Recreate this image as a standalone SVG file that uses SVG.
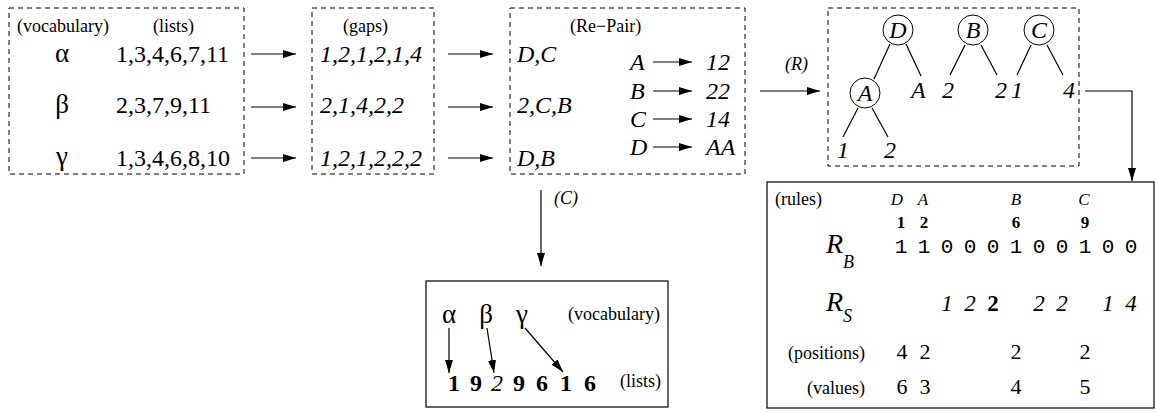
<svg xmlns="http://www.w3.org/2000/svg" width="1156" height="413" viewBox="0 0 1156 413" font-family="'Liberation Serif', 'Times New Roman', serif">
<style>
text{font-family:"Liberation Serif","Times New Roman",serif;fill:#000}
.lbl{font-size:18px}
.n{font-size:24px}
.it{font-style:italic}
.g{font-size:27px}
.dash{fill:none;stroke:#000;stroke-width:1;stroke-dasharray:5,4}
.box{fill:none;stroke:#000;stroke-width:1.2}
.ln{fill:none;stroke:#000;stroke-width:1.2}
.arr{fill:none;stroke:#000;stroke-width:1.2;marker-end:url(#ah)}
.circ{fill:#fff;stroke:#000;stroke-width:1}
.bits{font-family:"Liberation Mono","DejaVu Sans Mono",monospace;font-size:21px;text-anchor:middle}
.sm{font-size:17px;font-style:italic;text-anchor:middle}
.bn{font-size:17px;font-weight:bold;text-anchor:middle}
.rs{font-size:23px;font-style:italic;text-anchor:middle}
.pv{font-size:22px;text-anchor:middle}
.bl{font-size:24px;font-weight:bold;text-anchor:middle}
.big{font-size:28px;font-style:italic}
</style>
<defs>
<marker id="ah" markerUnits="userSpaceOnUse" markerWidth="13" markerHeight="8" refX="13" refY="4" orient="auto">
<path d="M0,0 L13,4 L0,8 z" fill="#000"/>
</marker>
</defs>

<g id="lists">
<rect class="dash" x="9" y="8" width="235" height="166"/>
<text class="lbl" x="17" y="32">(vocabulary)</text>
<text class="lbl" x="153" y="32">(lists)</text>
<text class="g" x="62" y="62" text-anchor="middle">α</text>
<text class="g" x="62" y="113" text-anchor="middle">β</text>
<text class="g" x="62" y="165" text-anchor="middle">γ</text>
<text class="n" x="116" y="62">1,3,4,6,7,11</text>
<text class="n" x="116" y="113">2,3,7,9,11</text>
<text class="n" x="116" y="166">1,3,4,6,8,10</text>
</g>

<g id="gaps">
<rect class="dash" x="312" y="8" width="122" height="166"/>
<text class="lbl" x="343" y="32">(gaps)</text>
<text class="n it" x="320" y="62">1,2,1,2,1,4</text>
<text class="n it" x="320" y="113">2,1,4,2,2</text>
<text class="n it" x="320" y="166">1,2,1,2,2,2</text>
</g>

<g id="repair">
<rect class="dash" x="510" y="8" width="235" height="166"/>
<text class="lbl" x="570" y="32">(Re−Pair)</text>
<text class="n it" x="517" y="62">D,C</text>
<text class="n it" x="517" y="113">2,C,B</text>
<text class="n it" x="517" y="166">D,B</text>
<text class="n it" x="630" y="70">A</text>
<text class="n it" x="630" y="99">B</text>
<text class="n it" x="630" y="127">C</text>
<text class="n it" x="630" y="155">D</text>
<line class="arr" x1="653" y1="62" x2="692" y2="62"/>
<line class="arr" x1="653" y1="91" x2="692" y2="91"/>
<line class="arr" x1="653" y1="119" x2="692" y2="119"/>
<line class="arr" x1="653" y1="147" x2="692" y2="147"/>
<text class="n it" x="706" y="70">12</text>
<text class="n it" x="706" y="99">22</text>
<text class="n it" x="706" y="127">14</text>
<text class="n it" x="706" y="155">AA</text>
</g>

<g id="trees">
<rect class="dash" x="828" y="8" width="251" height="158"/>
<line class="ln" x1="890" y1="44" x2="874" y2="79"/>
<line class="ln" x1="906" y1="44" x2="921" y2="76"/>
<line class="ln" x1="858" y1="108" x2="843" y2="137"/>
<line class="ln" x1="872" y1="108" x2="888" y2="137"/>
<line class="ln" x1="965" y1="45" x2="950" y2="75"/>
<line class="ln" x1="981" y1="45" x2="997" y2="75"/>
<line class="ln" x1="1031" y1="45" x2="1017" y2="75"/>
<line class="ln" x1="1047" y1="45" x2="1063" y2="75"/>
<circle class="circ" cx="898" cy="30" r="15"/>
<circle class="circ" cx="865" cy="93" r="15"/>
<circle class="circ" cx="973" cy="30" r="15"/>
<circle class="circ" cx="1039" cy="30" r="15"/>
<text class="n it" x="898" y="38" text-anchor="middle">D</text>
<text class="n it" x="865" y="101" text-anchor="middle">A</text>
<text class="n it" x="973" y="38" text-anchor="middle">B</text>
<text class="n it" x="1039" y="38" text-anchor="middle">C</text>
<text class="n it" x="911" y="98">A</text>
<text class="n it" x="942" y="98">2</text>
<text class="n it" x="995" y="98">2</text>
<text class="n it" x="1011" y="98">1</text>
<text class="n it" x="1063" y="98">4</text>
<text class="n it" x="837" y="158">1</text>
<text class="n it" x="884" y="158">2</text>
</g>

<g id="rules">
<rect class="box" x="767" y="182" width="387" height="226"/>
<text class="lbl" x="775" y="205">(rules)</text>
<text class="sm" x="897" y="205">D</text>
<text class="sm" x="923" y="205">A</text>
<text class="sm" x="1016" y="205">B</text>
<text class="sm" x="1084" y="205">C</text>
<text class="bn" x="901" y="228">1</text>
<text class="bn" x="924" y="228">2</text>
<text class="bn" x="1016" y="228">6</text>
<text class="bn" x="1085" y="228">9</text>
<text class="big" x="826" y="253">R</text>
<text class="lbl it" x="843" y="268">B</text>
<text class="bits" y="253"><tspan x="901">1</tspan><tspan x="924">1</tspan><tspan x="947">0</tspan><tspan x="970">0</tspan><tspan x="993">0</tspan><tspan x="1016">1</tspan><tspan x="1039">0</tspan><tspan x="1062">0</tspan><tspan x="1085">1</tspan><tspan x="1108">0</tspan><tspan x="1131">0</tspan></text>
<text class="big" x="826" y="311">R</text>
<text class="lbl it" x="843" y="322">S</text>
<text class="rs" y="311"><tspan x="947">1</tspan><tspan x="970">2</tspan><tspan x="993" font-weight="bold" font-style="normal">2</tspan><tspan x="1039">2</tspan><tspan x="1062">2</tspan><tspan x="1108">1</tspan><tspan x="1131">4</tspan></text>
<text class="lbl" x="865" y="359" text-anchor="end">(positions)</text>
<text class="pv" y="359"><tspan x="902">4</tspan><tspan x="925">2</tspan><tspan x="1016">2</tspan><tspan x="1085">2</tspan></text>
<text class="lbl" x="865" y="394" text-anchor="end">(values)</text>
<text class="pv" y="394"><tspan x="902">6</tspan><tspan x="925">3</tspan><tspan x="1016">4</tspan><tspan x="1085">5</tspan></text>
</g>

<g id="compressed">
<rect class="box" x="426" y="281" width="242" height="126"/>
<text class="g" x="449" y="323" text-anchor="middle">α</text>
<text class="g" x="486" y="323" text-anchor="middle">β</text>
<text class="g" x="522" y="323" text-anchor="middle">γ</text>
<text class="lbl" x="568" y="320">(vocabulary)</text>
<text class="bl" y="391"><tspan x="454">1</tspan><tspan x="476">9</tspan><tspan x="497" font-weight="normal" font-style="italic">2</tspan><tspan x="519">9</tspan><tspan x="542">6</tspan><tspan x="566">1</tspan><tspan x="590">6</tspan></text>
<text class="lbl" x="620" y="387">(lists)</text>
<line class="arr" x1="449" y1="328" x2="449" y2="373"/>
<line class="arr" x1="487" y1="328" x2="494" y2="373"/>
<line class="arr" x1="525" y1="328" x2="563" y2="372"/>
</g>

<g id="connectors">
<line class="arr" x1="251" y1="54" x2="296" y2="54"/>
<line class="arr" x1="251" y1="107" x2="296" y2="107"/>
<line class="arr" x1="251" y1="158" x2="296" y2="158"/>
<line class="arr" x1="448" y1="54" x2="493" y2="54"/>
<line class="arr" x1="448" y1="107" x2="493" y2="107"/>
<line class="arr" x1="448" y1="158" x2="493" y2="158"/>
<line class="arr" x1="760" y1="91" x2="820" y2="91"/>
<text class="lbl it" x="785" y="70">(R)</text>
<polyline class="arr" points="1085,91 1132,91 1132,181"/>
<line class="arr" x1="541" y1="190" x2="541" y2="266"/>
<text class="lbl it" x="554" y="204">(C)</text>
</g>
</svg>
